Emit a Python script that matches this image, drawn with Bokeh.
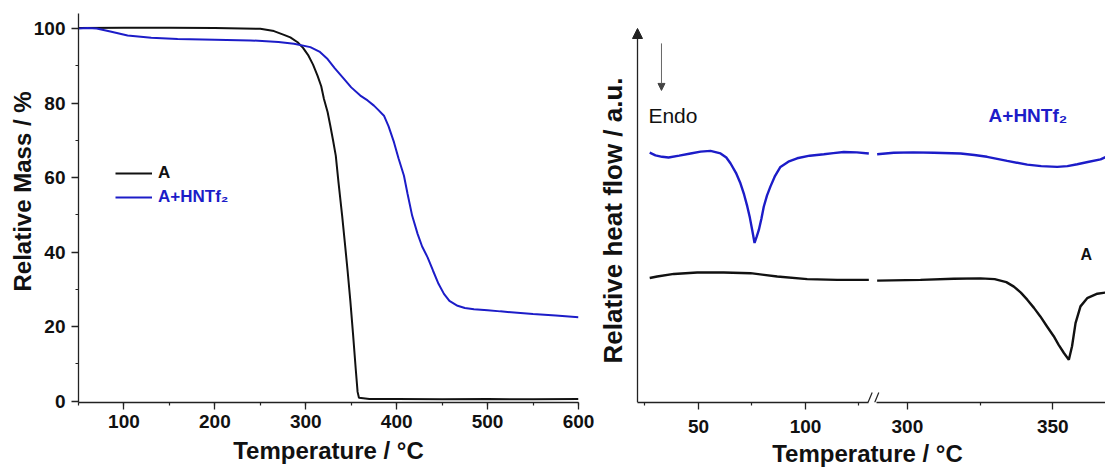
from bokeh.plotting import figure
from bokeh.models import (Range1d, SingleIntervalTicker, FixedTicker, Title,
                          Label, Legend, LegendItem, Arrow, NormalHead)
from bokeh.layouts import row
from bokeh.embed import file_html
from bokeh.resources import INLINE

# ---------------- data ----------------
# TGA: relative mass (%) vs temperature (°C)
tga_a_temp = [50, 100, 150, 200, 250, 265, 276, 283, 291, 297, 303, 308, 313, 317, 320,
              324, 327, 330, 333, 336, 340, 343, 346, 349, 352, 355, 357, 358.5,
              370, 400, 450, 500, 550, 600]
tga_a_mass = [100.1, 100.2, 100.2, 100.1, 99.9, 99.3, 98.3, 97.6, 96.3, 94.8, 92.7, 90.3,
              87.3, 84.5, 81.1, 77.6, 73.9, 70.0, 65.9, 58.7, 49.8, 42.5, 35.0, 27.0,
              18.0, 8.5, 2.5, 0.9, 0.6, 0.6, 0.5, 0.6, 0.5, 0.6]

tga_b_temp = [50, 60, 70, 85, 104, 130, 159, 200, 239, 270, 287, 305, 315, 324, 332, 342,
              350, 360, 368, 375, 380, 386, 391, 397, 402, 408, 412, 417, 423, 428, 434,
              440, 446, 452, 458, 467, 475, 485, 500, 514, 550, 575, 600]
tga_b_mass = [100.0, 100.1, 100.0, 99.2, 98.1, 97.5, 97.2, 97.0, 96.8, 96.4, 95.9, 95.0,
              93.8, 91.8, 89.3, 86.5, 84.2, 82.0, 80.7, 79.3, 78.1, 76.6, 73.8, 69.5,
              65.2, 60.5, 55.6, 49.8, 44.9, 41.5, 38.6, 35.0, 31.5, 28.8, 26.9, 25.6,
              25.0, 24.7, 24.4, 24.1, 23.4, 23.0, 22.5]

# DSC: relative heat flow (a.u.) vs temperature (°C), broken axis
dsc_lo_temp_b = [27.2, 29.9, 33, 36.0, 41, 46.3, 51, 55.6, 60.3, 63, 65.0, 67.5, 69.6,
                 71.3, 72.8, 74.0, 75.1, 76.2, 77.2, 78.2, 79.4, 80.5, 82, 83.6, 85.8,
                 88.3, 92, 96.1, 102, 108.6, 113, 117.9, 124, 129.6]
dsc_lo_flow_b = [66.7, 66.0, 65.6, 65.4, 65.9, 66.5, 67.0, 67.2, 66.5, 65.4, 63.8, 61.3,
                 58.5, 55.5, 52.3, 49.3, 46.0, 42.5, 44.2, 46.0, 49.0, 52.2, 55.2, 57.6,
                 60.5, 62.9, 64.3, 65.2, 65.9, 66.3, 66.6, 66.9, 66.8, 66.5]
dsc_lo_temp_a = [27.2, 30.7, 38.5, 49.4, 61.8, 74.3, 86.8, 100.8, 114.8, 129.6]
dsc_lo_flow_a = [33.1, 33.5, 34.2, 34.6, 34.6, 34.4, 33.5, 32.8, 32.6, 32.6]

dsc_hi_temp_b = [289.6, 295.3, 302, 309.1, 318.3, 323, 327.4, 334.3, 341.2, 346, 351.5,
                 355, 358.4, 362, 366.4, 368.1]
dsc_hi_flow_b = [66.3, 66.7, 66.8, 66.7, 66.5, 66.1, 65.6, 64.5, 63.5, 63.1, 62.9, 63.1,
                 63.6, 64.2, 64.9, 65.5]
dsc_hi_temp_a = [289.6, 304.5, 315.9, 325.1, 330, 334, 336.6, 339, 341.2, 343.5, 345.7,
                 348, 350.3, 352, 353.8, 355.5, 356.6, 357.8, 359.5, 361.8, 365.3, 368.1]
dsc_hi_flow_a = [32.4, 32.6, 32.9, 33.0, 32.8, 32.0, 30.8, 29.2, 27.3, 25.1, 22.8, 20.1,
                 17.5, 15.2, 13.0, 11.2, 14.8, 21.0, 25.5, 27.7, 28.9, 29.2]

series_names = ["A", "A+HNTf\u2082"]
dsc_lo_major = [50, 100]
dsc_lo_minor = [25, 75, 125]
dsc_hi_major = [300, 350]
dsc_hi_minor = [325]

# ---------------- style ----------------
FONT = "Liberation Sans"
BLACK = "#111111"
BLUE = "#1c1cc8"
AXC = "#222222"
TICK_SIZE = "19px"
TITLE_SIZE = "24px"
H = 472
TOP, BOTTOM = 13, 70


def style_axis(ax):
    ax.axis_line_color = AXC
    ax.axis_line_width = 1.3
    ax.major_tick_line_color = AXC
    ax.major_tick_line_width = 1.3
    ax.major_tick_out = 7
    ax.major_tick_in = 0
    ax.minor_tick_line_color = AXC
    ax.minor_tick_line_width = 1.2
    ax.minor_tick_out = 3
    ax.minor_tick_in = 0
    ax.major_label_text_font = FONT
    ax.major_label_text_font_style = "bold"
    ax.major_label_text_font_size = TICK_SIZE
    ax.major_label_text_color = BLACK
    ax.axis_label_text_font = FONT
    ax.axis_label_text_font_style = "bold"
    ax.axis_label_text_font_size = TITLE_SIZE
    ax.axis_label_text_color = BLACK


# ---------------- TGA panel ----------------
p1 = figure(width=596, height=H, x_range=Range1d(50, 600), y_range=Range1d(-0.35, 104.02),
            output_backend="svg", toolbar_location=None,
            min_border_left=78, min_border_right=18, min_border_top=TOP,
            min_border_bottom=BOTTOM)
p1.grid.visible = False
p1.outline_line_color = None
p1.xaxis.ticker = SingleIntervalTicker(interval=100, num_minor_ticks=2)
p1.yaxis.ticker = SingleIntervalTicker(interval=20, num_minor_ticks=2)
for ax in p1.xaxis + p1.yaxis:
    style_axis(ax)
p1.yaxis.major_label_standoff = 6
p1.xaxis.major_label_standoff = 5
p1.xaxis.axis_label = "Temperature / \u00b0C"
p1.xaxis.axis_label_standoff = 6

ra = p1.line(tga_a_temp, tga_a_mass, line_color=BLACK, line_width=2)
rb = p1.line(tga_b_temp, tga_b_mass, line_color=BLUE, line_width=2)

leg_common = dict(padding=0, margin=0, glyph_width=37, glyph_height=20, label_height=20,
                  label_standoff=6, background_fill_alpha=0, border_line_color=None,
                  label_text_font=FONT, label_text_font_style="bold",
                  label_text_font_size="17px")
leg1 = Legend(items=[LegendItem(label=series_names[0], renderers=[ra])],
              location=(37, 219), label_text_color=BLACK, **leg_common)
leg2 = Legend(items=[LegendItem(label=series_names[1], renderers=[rb])],
              location=(37, 195), label_text_color=BLUE, **leg_common)
p1.add_layout(leg1)
p1.add_layout(leg2)

p1.add_layout(Title(text="Relative Mass / %", align="left", offset=111, standoff=-10,
                    text_font=FONT, text_font_style="bold", text_font_size=TITLE_SIZE,
                    text_color=BLACK), "left")

# ---------------- DSC panel (broken x axis) ----------------
lo_rng = Range1d(17.76, 240.2)
hi_rng = Range1d(204.47, 368.1)
p2 = figure(width=509, height=H, x_range=lo_rng, y_range=Range1d(-0.27, 104.02),
            output_backend="svg", toolbar_location=None,
            min_border_left=33, min_border_right=0, min_border_top=TOP,
            min_border_bottom=BOTTOM)
p2.extra_x_ranges = {"hi": hi_rng}
p2.grid.visible = False
p2.outline_line_color = None
p2.yaxis.visible = False


def hi_to_lo(t):
    # position of a high-segment temperature in the low-segment coordinate system
    return round(lo_rng.start + (t - hi_rng.start) * (lo_rng.end - lo_rng.start)
                 / (hi_rng.end - hi_rng.start), 4)


majors = dsc_lo_major + [hi_to_lo(t) for t in dsc_hi_major]
minors = dsc_lo_minor + [hi_to_lo(t) for t in dsc_hi_minor]
overrides = {m: str(t) for m, t in zip(majors, dsc_lo_major + dsc_hi_major)}

xax = p2.xaxis[0]
style_axis(xax)
xax.ticker = FixedTicker(ticks=majors, minor_ticks=minors)
xax.major_label_overrides = overrides
xax.bounds = (21.5, 240.2)
xax.axis_line_dash = "231 8 400"
xax.major_label_standoff = 10
xax.axis_label = "Temperature / \u00b0C"
xax.axis_label_standoff = 4

p2.line(dsc_lo_temp_b, dsc_lo_flow_b, line_color=BLUE, line_width=2.4)
p2.line(dsc_lo_temp_a, dsc_lo_flow_a, line_color=BLACK, line_width=2.4)
p2.line(dsc_hi_temp_b, dsc_hi_flow_b, line_color=BLUE, line_width=2.4, x_range_name="hi")
p2.line(dsc_hi_temp_a, dsc_hi_flow_a, line_color=BLACK, line_width=2.4, x_range_name="hi")

# y axis drawn as an arrow
p2.add_layout(Arrow(end=NormalHead(size=10, fill_color=AXC, line_color=AXC),
                    x_start=21.5, y_start=-0.27, x_end=21.5, y_end=100,
                    line_color=AXC, line_width=1.3))
# "Endo" arrow
p2.add_layout(Arrow(end=NormalHead(size=7, fill_color="#444444", line_color="#444444"),
                    x_start=32.7, y_start=96.0, x_end=32.7, y_end=83.4,
                    line_color="#666666", line_width=1))
p2.add_layout(Label(x=26.6, y=76.7, text="Endo", text_font=FONT, text_font_size="21px",
                    text_color=BLACK, text_align="left", text_baseline="alphabetic"))
# series labels
p2.add_layout(Label(x=327.9, y=76.7, x_range_name="hi", text=series_names[1],
                    text_font=FONT, text_font_style="bold", text_font_size="19px",
                    text_color=BLUE, text_align="left", text_baseline="alphabetic"))
p2.add_layout(Label(x=359.5, y=39.4, x_range_name="hi", text=series_names[0],
                    text_font=FONT, text_font_style="bold", text_font_size="16px",
                    text_color=BLACK, text_align="left", text_baseline="alphabetic"))
# axis break marks
p2.add_layout(Arrow(end=None, x_start=129.21, y_start=-0.27, x_end=131.17, y_end=2.4,
                    line_color=AXC, line_width=1.2))
p2.add_layout(Arrow(end=None, x_start=132.34, y_start=-0.27, x_end=134.26, y_end=2.4,
                    line_color=AXC, line_width=1.2))

p2.add_layout(Title(text="Relative heat flow / a.u.", align="left", offset=39, standoff=0,
                    vertical_align="top", text_font=FONT, text_font_style="bold",
                    text_font_size="26px", text_color=BLACK), "left")

layout = row(p1, p2)
open("out.html", "w").write(file_html(layout, INLINE))
